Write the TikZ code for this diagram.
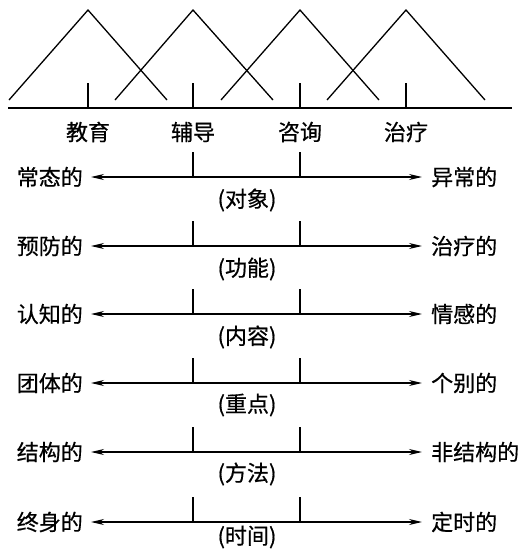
\documentclass[tikz,border=0pt]{standalone}
\usepackage{fontspec}
\setmainfont{Noto Sans CJK SC}[FakeBold=0.6]
\usetikzlibrary{arrows.meta}
\begin{document}
\begin{tikzpicture}[x=1pt,y=-1pt,
  font=\fontsize{22}{26}\selectfont,
  lbl/.style={inner sep=0pt},
  ln/.style={line width=1.3pt},
  dbl/.style={line width=1.2pt,{Stealth[length=13pt,width=6pt]}-{Stealth[length=13pt,width=6pt]}}]
\useasboundingbox (0,0) rectangle (523,549);
% triangles
\draw[ln] (9,100) -- (88,10) -- (167,100);
\draw[ln] (115,100) -- (193,10) -- (273,100);
\draw[ln] (221,100) -- (300,10) -- (379,100);
\draw[ln] (327,100) -- (406,10) -- (485,100);
% base line
\coordinate (bl) at (8,108);
\coordinate (br) at (512,108);
\draw[ln] (bl) -- (br);
\foreach \x/\n in {88/a,193/b,300/c,406/d}{
  \coordinate (tt\n) at (\x,83);
  \coordinate (tb\n) at (\x,108);
  \draw[ln] (tt\n) -- (tb\n);
}
\node[lbl] (edu) at (88,132) {教育};
\node[lbl] (gui) at (193,132) {辅导};
\node[lbl] (con) at (300,132) {咨询};
\node[lbl] (the) at (406,132) {治疗};
% rows
\foreach \y/\l/\r/\c/\n/\d in {177/常态的/异常的/对象/1/23,
                            246/预防的/治疗的/功能/2/23,
                            314/认知的/情感的/内容/3/23,
                            383/团体的/个别的/重点/4/22,
                            452/结构的/非结构的/方法/5/22,
                            522/终身的/定时的/时间/6/15}{
  \node[lbl,anchor=east] (L\n) at (83,\y) {\l};
  \node[lbl,anchor=west] (R\n) at (431,\y) {\r};
  \coordinate (a\n) at (91,\y);
  \coordinate (b\n) at (422,\y);
  \draw[dbl] (a\n) -- (b\n);
  \coordinate (p\n) at (193,\y-25);
  \coordinate (pb\n) at (193,\y);
  \coordinate (q\n) at (300,\y-25);
  \coordinate (qb\n) at (300,\y);
  \draw[ln] (p\n) -- (pb\n);
  \draw[ln] (q\n) -- (qb\n);
  \node[lbl] (C\n) at (247,\y+\d) {(\c)};
}
\end{tikzpicture}
\end{document}
